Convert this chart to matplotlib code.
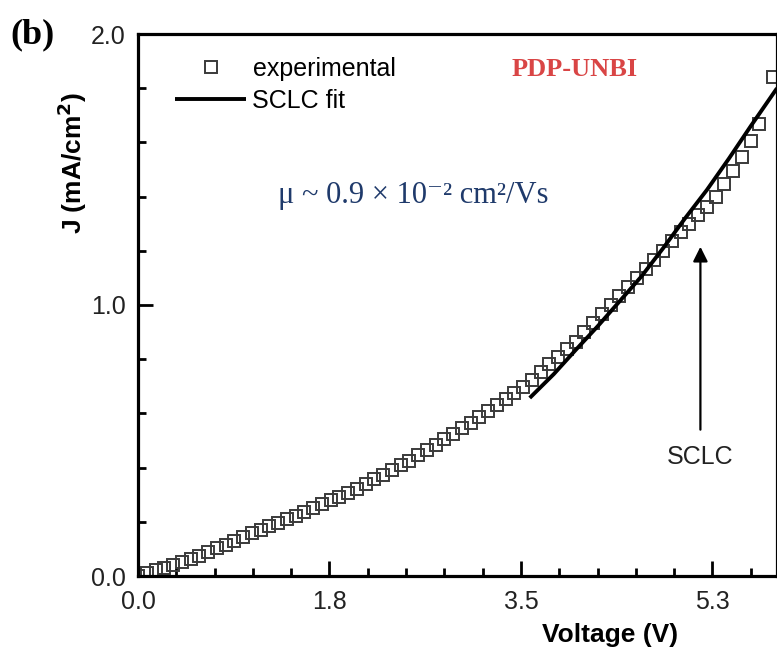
import matplotlib
matplotlib.use('Agg')
import matplotlib.pyplot as plt
from matplotlib.ticker import FixedLocator, MultipleLocator

# Experimental J-V points (V in volts, J in mA/cm2)
voltage = [0.00, 0.08, 0.16, 0.24, 0.32, 0.40, 0.48, 0.56, 0.64, 0.72,
           0.80, 0.88, 0.96, 1.04, 1.12, 1.20, 1.28, 1.36, 1.44, 1.52,
           1.60, 1.68, 1.76, 1.84, 1.92, 2.00, 2.08, 2.16, 2.24, 2.32,
           2.40, 2.48, 2.56, 2.64, 2.72, 2.80, 2.88, 2.96, 3.04, 3.12,
           3.20, 3.28, 3.36, 3.44, 3.52, 3.60, 3.68, 3.76, 3.84, 3.92,
           4.00, 4.08, 4.16, 4.24, 4.32, 4.40, 4.48, 4.56, 4.64, 4.72,
           4.80, 4.88, 4.96, 5.04, 5.12, 5.20, 5.28, 5.36, 5.44, 5.52,
           5.60, 5.68, 5.80]
current = [0.000, 0.010, 0.021, 0.031, 0.042, 0.052, 0.062, 0.075, 0.089, 0.102,
           0.116, 0.130, 0.143, 0.157, 0.170, 0.183, 0.196, 0.209, 0.222, 0.236,
           0.250, 0.264, 0.279, 0.293, 0.308, 0.322, 0.339, 0.357, 0.374, 0.391,
           0.408, 0.426, 0.445, 0.465, 0.485, 0.505, 0.525, 0.545, 0.566, 0.587,
           0.609, 0.631, 0.652, 0.674, 0.697, 0.725, 0.753, 0.781, 0.809, 0.837,
           0.865, 0.899, 0.932, 0.966, 0.999, 1.033, 1.067, 1.100, 1.134, 1.167,
           1.201, 1.235, 1.268, 1.300, 1.331, 1.361, 1.398, 1.446, 1.494, 1.545,
           1.607, 1.669, 1.840]

# SCLC fit curve
fit_voltage = [3.58, 3.80, 4.00, 4.20, 4.40, 4.60, 4.80, 5.00, 5.20, 5.40, 5.60, 5.84]
fit_current = [0.657, 0.745, 0.834, 0.921, 1.013, 1.105, 1.210, 1.320, 1.425, 1.540, 1.660, 1.800]

# Axis ticks
xticks = [0.0, 1.75, 3.5, 5.25]
xticklabels = ['0.0', '1.8', '3.5', '5.3']
yticks = [0.0, 1.0, 2.0]
yticklabels = ['0.0', '1.0', '2.0']

sans = 'Liberation Sans'
serif = 'Liberation Serif'

fig = plt.figure(figsize=(7.77, 6.51), dpi=100)
ax = fig.add_axes([138/777, 75/651, 639/777, 542/651])

# Experimental points as open squares
ax.plot(voltage, current, linestyle='none', marker='s', markersize=8.2,
        markerfacecolor='none', markeredgecolor='#3a3a3a', markeredgewidth=1.4,
        label='experimental', zorder=2)
# SCLC fit on top
ax.plot(fit_voltage, fit_current, color='black', linewidth=2.8,
        solid_capstyle='butt', label='SCLC fit', zorder=3)

# Limits
ax.set_xlim(0, 5.84)
ax.set_ylim(0, 2.0)

# Ticks
ax.xaxis.set_major_locator(FixedLocator(xticks))
ax.set_xticklabels(xticklabels)
ax.xaxis.set_minor_locator(MultipleLocator(0.35))
ax.yaxis.set_major_locator(FixedLocator(yticks))
ax.set_yticklabels(yticklabels)
ax.yaxis.set_minor_locator(MultipleLocator(0.2))
ax.tick_params(which='both', direction='in', width=2, top=False, right=False,
               labelsize=18, labelcolor='#222222')
ax.tick_params(which='major', length=11)
ax.tick_params(which='minor', length=6)
ax.tick_params(axis='x', pad=10)
ax.tick_params(axis='y', pad=9)
for lab in ax.get_xticklabels() + ax.get_yticklabels():
    lab.set_family(sans)

# Spines
for s in ax.spines.values():
    s.set_linewidth(2.3)

# Axis labels
ax.set_xlabel('Voltage (V)', fontsize=19, fontweight='bold', family=sans)
ax.xaxis.set_label_coords((610 - 138) / 639, (576 - 635) / 542)
ax.xaxis.label.set_verticalalignment('center')
ax.set_ylabel('J (mA/cm$^\\mathbf{2}$)', fontsize=19, fontweight='bold', family=sans)
ax.yaxis.set_label_coords((72 - 138) / 639, (576 - 163) / 542)
ax.yaxis.label.set_verticalalignment('center')

# Legend
ax.legend(loc='upper left', bbox_to_anchor=(175/777, 1 - 57/651),
          bbox_transform=fig.transFigure, frameon=False,
          prop={'family': sans, 'size': 18}, handlelength=2.85,
          handletextpad=0.25, labelspacing=0.32, borderpad=0, borderaxespad=0)

# Annotations
ax.text((575 - 138) / 109.4, (576 - 70) / 271, 'PDP-UNBI', color='#d94545',
        fontsize=19, fontweight='bold', family=serif, ha='center', va='center')
ax.text((278 - 138) / 109.4, (576 - 195) / 271,
        '\u03bc ~ 0.9 \u00d7 10\u207b\u00b2 cm\u00b2/Vs', color='#1f3a6b',
        fontsize=22, family=[serif, 'DejaVu Serif'], ha='left', va='center')
ax.annotate('', xy=(5.14, 1.215), xytext=(5.14, 0.54),
            arrowprops=dict(arrowstyle='-|>', color='black', lw=1.6,
                            mutation_scale=22, shrinkA=0, shrinkB=0))
ax.text(5.14, 0.44, 'SCLC', fontsize=18, family=sans, color='#222222',
        ha='center', va='center')

# Panel tag
fig.text(33/777, 1 - 35/651, '(b)', fontsize=26, fontweight='bold',
         family=serif, ha='center', va='center')

# Save
plt.savefig('out.png', dpi=100)
plt.close()
